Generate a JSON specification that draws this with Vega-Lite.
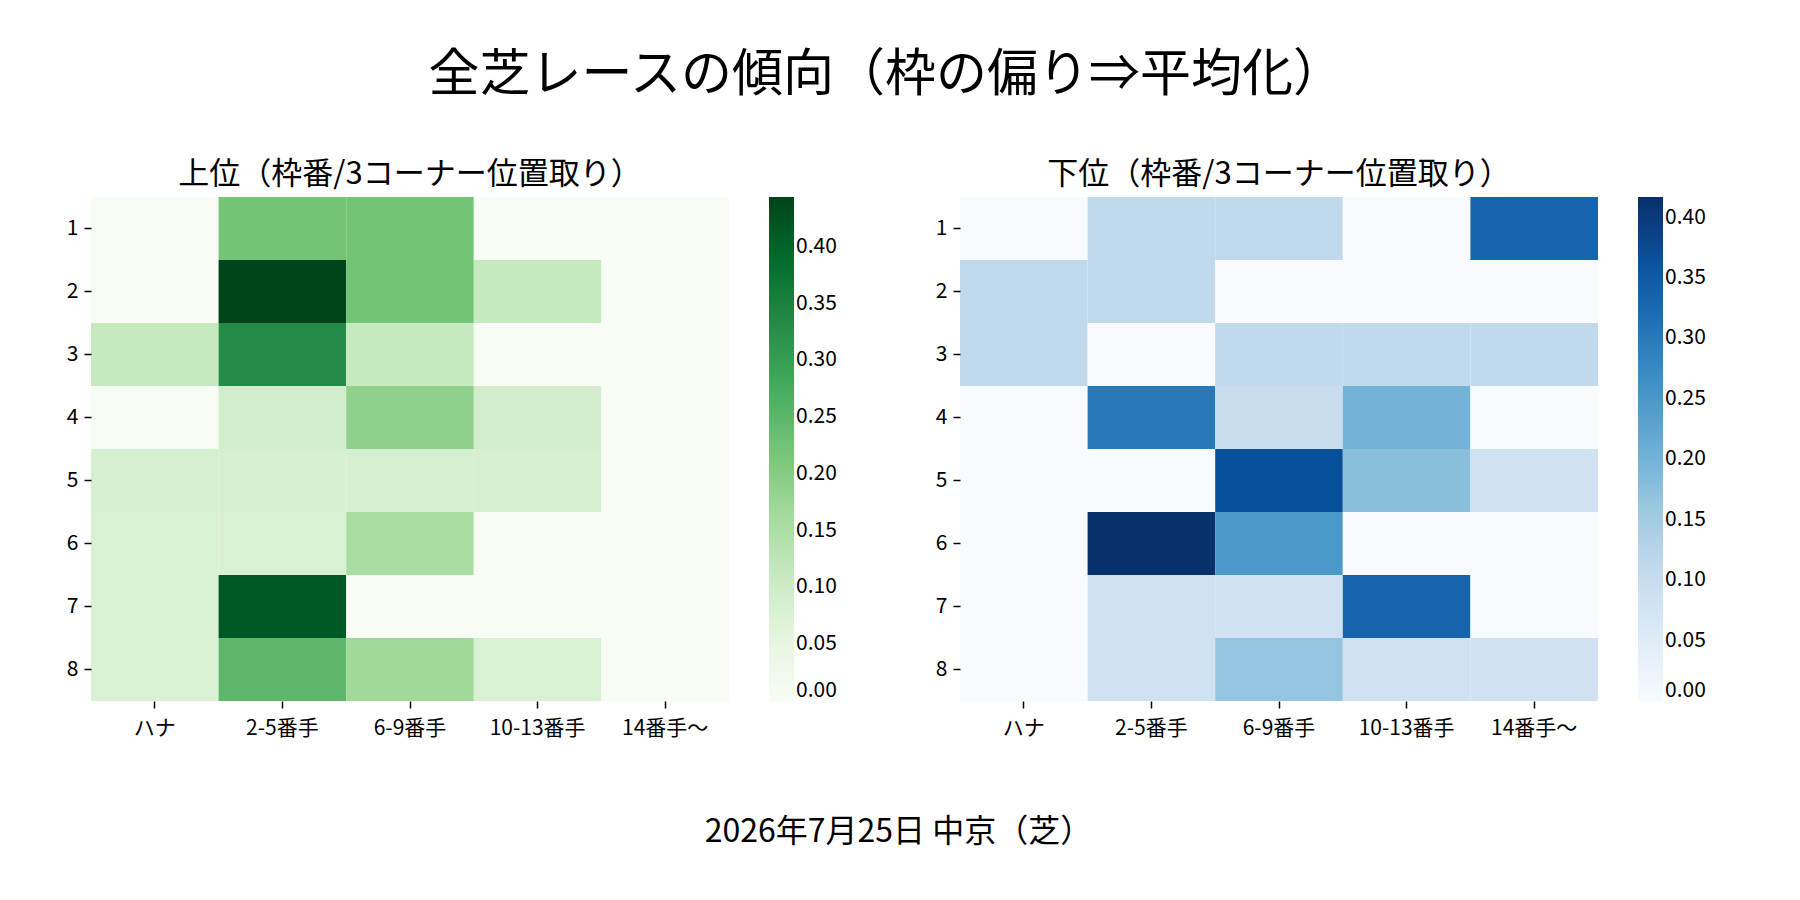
{
  "$schema": "https://vega.github.io/schema/vega-lite/v6.json",
  "padding": {"left": 66, "top": 50, "right": 20, "bottom": 20},
  "background": "white",
  "title": {"text": "全芝レースの傾向（枠の偏り⇒平均化）", "fontSize": 51, "offset": 57, "anchor": "middle"},
  "datasets": {
    "top": [
      {"f": 1, "p": "ハナ", "v": 0}, {"f": 1, "p": "2-5番手", "v": 0.222}, {"f": 1, "p": "6-9番手", "v": 0.222}, {"f": 1, "p": "10-13番手", "v": 0}, {"f": 1, "p": "14番手〜", "v": 0},
      {"f": 2, "p": "ハナ", "v": 0}, {"f": 2, "p": "2-5番手", "v": 0.444}, {"f": 2, "p": "6-9番手", "v": 0.222}, {"f": 2, "p": "10-13番手", "v": 0.111}, {"f": 2, "p": "14番手〜", "v": 0},
      {"f": 3, "p": "ハナ", "v": 0.111}, {"f": 3, "p": "2-5番手", "v": 0.333}, {"f": 3, "p": "6-9番手", "v": 0.111}, {"f": 3, "p": "10-13番手", "v": 0}, {"f": 3, "p": "14番手〜", "v": 0},
      {"f": 4, "p": "ハナ", "v": 0}, {"f": 4, "p": "2-5番手", "v": 0.091}, {"f": 4, "p": "6-9番手", "v": 0.19}, {"f": 4, "p": "10-13番手", "v": 0.091}, {"f": 4, "p": "14番手〜", "v": 0},
      {"f": 5, "p": "ハナ", "v": 0.083}, {"f": 5, "p": "2-5番手", "v": 0.083}, {"f": 5, "p": "6-9番手", "v": 0.083}, {"f": 5, "p": "10-13番手", "v": 0.083}, {"f": 5, "p": "14番手〜", "v": 0},
      {"f": 6, "p": "ハナ", "v": 0.077}, {"f": 6, "p": "2-5番手", "v": 0.077}, {"f": 6, "p": "6-9番手", "v": 0.154}, {"f": 6, "p": "10-13番手", "v": 0}, {"f": 6, "p": "14番手〜", "v": 0},
      {"f": 7, "p": "ハナ", "v": 0.077}, {"f": 7, "p": "2-5番手", "v": 0.416}, {"f": 7, "p": "6-9番手", "v": 0}, {"f": 7, "p": "10-13番手", "v": 0}, {"f": 7, "p": "14番手〜", "v": 0},
      {"f": 8, "p": "ハナ", "v": 0.077}, {"f": 8, "p": "2-5番手", "v": 0.25}, {"f": 8, "p": "6-9番手", "v": 0.167}, {"f": 8, "p": "10-13番手", "v": 0.077}, {"f": 8, "p": "14番手〜", "v": 0}
    ],
    "bottom": [
      {"f": 1, "p": "ハナ", "v": 0}, {"f": 1, "p": "2-5番手", "v": 0.111}, {"f": 1, "p": "6-9番手", "v": 0.111}, {"f": 1, "p": "10-13番手", "v": 0}, {"f": 1, "p": "14番手〜", "v": 0.333},
      {"f": 2, "p": "ハナ", "v": 0.111}, {"f": 2, "p": "2-5番手", "v": 0.111}, {"f": 2, "p": "6-9番手", "v": 0}, {"f": 2, "p": "10-13番手", "v": 0}, {"f": 2, "p": "14番手〜", "v": 0},
      {"f": 3, "p": "ハナ", "v": 0.111}, {"f": 3, "p": "2-5番手", "v": 0}, {"f": 3, "p": "6-9番手", "v": 0.111}, {"f": 3, "p": "10-13番手", "v": 0.111}, {"f": 3, "p": "14番手〜", "v": 0.111},
      {"f": 4, "p": "ハナ", "v": 0}, {"f": 4, "p": "2-5番手", "v": 0.3}, {"f": 4, "p": "6-9番手", "v": 0.1}, {"f": 4, "p": "10-13番手", "v": 0.2}, {"f": 4, "p": "14番手〜", "v": 0},
      {"f": 5, "p": "ハナ", "v": 0}, {"f": 5, "p": "2-5番手", "v": 0}, {"f": 5, "p": "6-9番手", "v": 0.367}, {"f": 5, "p": "10-13番手", "v": 0.178}, {"f": 5, "p": "14番手〜", "v": 0.083},
      {"f": 6, "p": "ハナ", "v": 0}, {"f": 6, "p": "2-5番手", "v": 0.417}, {"f": 6, "p": "6-9番手", "v": 0.25}, {"f": 6, "p": "10-13番手", "v": 0}, {"f": 6, "p": "14番手〜", "v": 0},
      {"f": 7, "p": "ハナ", "v": 0}, {"f": 7, "p": "2-5番手", "v": 0.083}, {"f": 7, "p": "6-9番手", "v": 0.083}, {"f": 7, "p": "10-13番手", "v": 0.333}, {"f": 7, "p": "14番手〜", "v": 0},
      {"f": 8, "p": "ハナ", "v": 0}, {"f": 8, "p": "2-5番手", "v": 0.083}, {"f": 8, "p": "6-9番手", "v": 0.167}, {"f": 8, "p": "10-13番手", "v": 0.083}, {"f": 8, "p": "14番手〜", "v": 0.083}
    ]
  },
  "vconcat": [
    {
      "hconcat": [
        {
          "data": {"name": "top"},
          "width": 638,
          "height": 504,
          "title": {"text": "上位（枠番/3コーナー位置取り）", "offset": 6},
          "mark": "rect",
          "encoding": {
            "x": {"field": "p", "type": "ordinal", "sort": ["ハナ", "2-5番手", "6-9番手", "10-13番手", "14番手〜"], "scale": {"paddingInner": 0, "paddingOuter": 0}, "axis": {"labelAngle": 0, "labelPadding": 9}},
            "y": {"field": "f", "type": "ordinal", "scale": {"paddingInner": 0, "paddingOuter": 0}},
            "color": {
              "field": "v", "type": "quantitative",
              "scale": {"domain": [0, 0.0555, 0.111, 0.1665, 0.222, 0.2775, 0.333, 0.3885, 0.444], "range": ["#f7fcf5", "#e5f5e0", "#c7e9c0", "#a1d99b", "#74c476", "#41ab5d", "#238b45", "#006d2c", "#00441b"], "nice": false},
              "legend": {"values": [0, 0.05, 0.1, 0.15, 0.2, 0.25, 0.3, 0.35, 0.4], "format": ".2f"}
            }
          }
        },
        {
          "data": {"name": "bottom"},
          "width": 638,
          "height": 504,
          "title": {"text": "下位（枠番/3コーナー位置取り）", "offset": 6},
          "mark": "rect",
          "encoding": {
            "x": {"field": "p", "type": "ordinal", "sort": ["ハナ", "2-5番手", "6-9番手", "10-13番手", "14番手〜"], "scale": {"paddingInner": 0, "paddingOuter": 0}, "axis": {"labelAngle": 0, "labelPadding": 9}},
            "y": {"field": "f", "type": "ordinal", "scale": {"paddingInner": 0, "paddingOuter": 0}},
            "color": {
              "field": "v", "type": "quantitative",
              "scale": {"domain": [0, 0.0521, 0.1042, 0.1563, 0.2085, 0.2606, 0.3127, 0.3648, 0.417], "range": ["#f7fbff", "#deebf7", "#c6dbef", "#9ecae1", "#6baed6", "#4292c6", "#2171b5", "#08519c", "#08306b"], "nice": false},
              "legend": {"values": [0, 0.05, 0.1, 0.15, 0.2, 0.25, 0.3, 0.35, 0.4], "format": ".2f"}
            }
          }
        }
      ],
      "spacing": 98,
      "resolve": {"scale": {"color": "independent"}, "legend": {"color": "independent"}}
    },
    {
      "data": {"values": [{"label": "2026年7月25日 中京（芝）"}]},
      "width": 400,
      "height": 40,
      "mark": {"type": "text", "fontSize": 32, "font": "Noto Sans CJK JP", "color": "black"},
      "encoding": {"text": {"field": "label", "type": "nominal"}}
    }
  ],
  "spacing": 74,
  "center": true,
  "config": {
    "font": "Noto Sans CJK JP",
    "view": {"stroke": null},
    "title": {"font": "Noto Sans CJK JP", "fontSize": 31, "fontWeight": "normal", "color": "black"},
    "axis": {"domain": false, "ticks": true, "tickColor": "black", "tickSize": 7, "tickWidth": 1.5, "labelFont": "Noto Sans CJK JP", "labelFontSize": 21, "labelColor": "black", "labelPadding": 6, "title": null, "grid": false},
    "legend": {"title": null, "gradientLength": 504, "gradientThickness": 25, "gradientStrokeWidth": 0, "labelFont": "Noto Sans CJK JP", "labelFontSize": 21, "labelColor": "black", "labelOffset": 13, "offset": 40, "labelOverlap": false, "labelBaseline": "middle"}
  }
}
